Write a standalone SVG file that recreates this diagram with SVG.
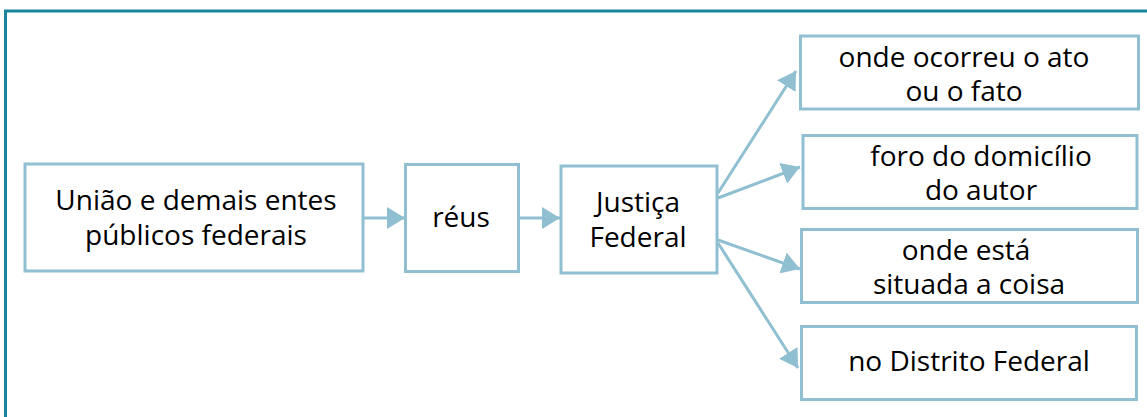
<svg xmlns="http://www.w3.org/2000/svg" width="1147" height="417" viewBox="0 0 1147 417">
  <style>
    .box { fill: #ffffff; stroke: #8fbfd0; stroke-width: 3; }
    .lbl { font-family: "Open Sans", "Noto Sans", sans-serif; font-size: 28px; fill: #000000; text-anchor: middle; }
    .link { fill: none; stroke: #8fbfd0; stroke-width: 3; }
  </style>
  <defs>
    <marker id="head" viewBox="0 0 18 22" refX="18" refY="11" markerWidth="18" markerHeight="22" markerUnits="userSpaceOnUse" orient="auto">
      <path d="M0,0 L18,11 L0,22 Z" fill="#8fbfd0"/>
    </marker>
  </defs>
  <rect width="1147" height="417" fill="#ffffff"/>
  <!-- outer frame: top and left edges -->
  <path d="M5.5,417 V11 H1147" fill="none" stroke="#18849e" stroke-width="3"/>

  <g id="connectors">
    <line class="link" x1="363" y1="218" x2="405" y2="218" marker-end="url(#head)"/>
    <line class="link" x1="519" y1="218" x2="560" y2="218" marker-end="url(#head)"/>
    <line class="link" x1="718" y1="193" x2="796" y2="71" marker-end="url(#head)"/>
    <line class="link" x1="718" y1="198" x2="800" y2="167" marker-end="url(#head)"/>
    <line class="link" x1="718" y1="240" x2="800" y2="269" marker-end="url(#head)"/>
    <line class="link" x1="718" y1="243" x2="798" y2="368" marker-end="url(#head)"/>
  </g>

  <g id="uniao">
    <rect class="box" x="25" y="164" width="338" height="107"/>
    <text class="lbl" x="196" y="210">União e demais entes</text>
    <text class="lbl" x="196" y="245">públicos federais</text>
  </g>
  <g id="reus">
    <rect class="box" x="405.5" y="164.5" width="113" height="107"/>
    <text class="lbl" x="461" y="227">réus</text>
  </g>
  <g id="justica">
    <rect class="box" x="561" y="166" width="156" height="107"/>
    <text class="lbl" x="638" y="212">Justiça</text>
    <text class="lbl" x="638" y="247">Federal</text>
  </g>
  <g id="ato-fato">
    <rect class="box" x="800.5" y="36" width="338" height="73"/>
    <text class="lbl" x="964" y="67">onde ocorreu o ato</text>
    <text class="lbl" x="964" y="101">ou o fato</text>
  </g>
  <g id="domicilio">
    <rect class="box" x="803" y="135.5" width="334" height="73"/>
    <text class="lbl" x="981" y="166">foro do domicílio</text>
    <text class="lbl" x="981" y="200">do autor</text>
  </g>
  <g id="coisa">
    <rect class="box" x="801.5" y="229.5" width="336" height="73"/>
    <text class="lbl" x="966" y="260">onde está</text>
    <text class="lbl" x="969" y="294">situada a coisa</text>
  </g>
  <g id="distrito">
    <rect class="box" x="801.5" y="326.5" width="335" height="73"/>
    <text class="lbl" x="969" y="371">no Distrito Federal</text>
  </g>
</svg>
